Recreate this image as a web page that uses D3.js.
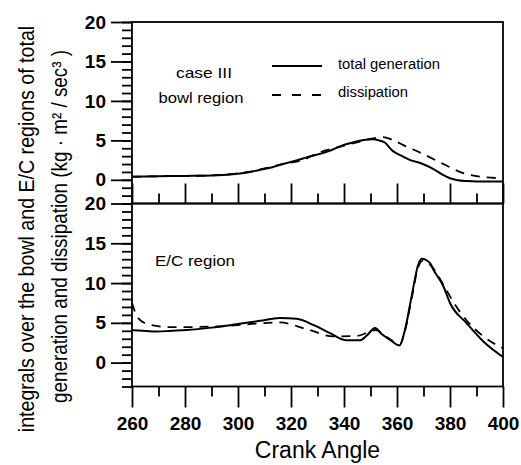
<!DOCTYPE html>
<html><head><meta charset="utf-8">
<script src="https://cdn.jsdelivr.net/npm/d3@7"></script>
<style>body{margin:0;background:#fff} svg{display:block}</style>
</head><body>
<svg id="c" width="521" height="465"></svg>
<script>
// ---- data ----
const bowlGenAngle = [260,270,280,290,298,304,308,313,317,322,327,330,334,339.7,343,346,349,351,353.6,355,358.6,362.3,365,369,373.6,377,380,383,386.3,390,400];
const bowlGen      = [0.4,0.45,0.5,0.55,0.7,0.95,1.25,1.6,2.0,2.45,2.95,3.2,3.6,4.4,4.7,4.95,5.1,5.15,4.95,4.8,3.6,2.95,2.5,2.1,1.4,0.7,0.2,-0.05,-0.15,-0.2,-0.2];
const bowlDisAngle = [260,270,280,290,298,304,310,318.5,323.4,331,338,346,351,354.8,358,362.4,370,377.5,385,392.6,400];
const bowlDis      = [0.4,0.45,0.5,0.55,0.75,1.0,1.45,2.1,2.4,3.5,4.15,4.85,5.25,5.4,5.1,4.4,3.25,2.0,0.85,0.35,0.2];
const ecGenAngle = [260,264,269.3,275,280.6,290,298,308.3,315.8,322.1,328.4,334.7,341,346,348.6,351.7,354.2,357.4,360.9,363,365.5,368,369.3,372.5,373.7,377.5,380,386.3,392.6,400];
const ecGen      = [4.1,4.0,3.9,4.0,4.1,4.4,4.75,5.25,5.6,5.5,4.75,3.7,2.8,2.8,3.4,4.35,3.6,2.85,2.15,4.1,8.3,12.3,13.05,12.5,11.7,9.6,7.5,4.95,2.65,0.7];
const ecDisAngle = [260,262.3,266.8,275.5,292,307,315.8,326,336,344.8,349.8,352,355,358,361,363,365.5,368,369.5,372.5,377.5,381.3,386.3,392.6,400];
const ecDis      = [7.5,5.6,4.75,4.45,4.55,4.9,5.05,4.2,3.3,3.35,3.9,4.1,3.5,2.8,2.2,4.0,8.0,12.0,12.8,12.3,9.8,7.6,5.3,3.3,1.8];
const xMajorTicks = [260,280,300,320,340,360,380,400];
const xMinorTicks = [270,290,310,330,350,370,390];
const yMajorTicks = [0,5,10,15,20];
const yDomain = [-3,20];

const FONT = "'Liberation Sans', Arial, Helvetica, sans-serif";
const svg = d3.select("#c");
const L = 132, R = 503;
const x = d3.scaleLinear().domain([260,400]).range([L,R]);
const yTop = d3.scaleLinear().domain(yDomain).range([203.5,22]);
const yBot = d3.scaleLinear().domain(yDomain).range([386.5,203.5]);

function styleAxis(g){
  g.select(".domain").remove();
  g.selectAll("line").attr("stroke","#000").attr("stroke-width",1.8);
  g.selectAll("text").attr("font-family",FONT).attr("font-weight","bold").attr("font-size",19).attr("fill","#000");
}

// left axes
[yTop,yBot].forEach(y=>{
  svg.append("g").attr("transform",`translate(${L},0)`)
    .call(d3.axisLeft(y).tickValues(d3.range(yDomain[0],yDomain[1]+1)).tickSize(10).tickFormat(""))
    .call(styleAxis);
  svg.append("g").attr("transform",`translate(${L},0)`)
    .call(d3.axisLeft(y).tickValues(yMajorTicks).tickSize(21).tickPadding(5).tickFormat(d3.format("d")))
    .call(styleAxis);
});

// shared middle x ticks (pointing up into top panel)
svg.append("g").attr("transform",`translate(0,${yTop.range()[0]})`)
  .call(d3.axisBottom(x).tickValues(xMajorTicks).tickSize(-20).tickFormat(""))
  .call(styleAxis);
svg.append("g").attr("transform",`translate(0,${yTop.range()[0]})`)
  .call(d3.axisBottom(x).tickValues(xMinorTicks).tickSize(-10).tickFormat(""))
  .call(styleAxis);

// bottom x axis
svg.append("g").attr("transform",`translate(0,${yBot.range()[0]})`)
  .call(d3.axisBottom(x).tickValues(xMinorTicks).tickSize(10).tickFormat(""))
  .call(styleAxis);
svg.append("g").attr("transform",`translate(0,${yBot.range()[0]})`)
  .call(d3.axisBottom(x).tickValues(xMajorTicks).tickSize(21).tickPadding(9).tickFormat(d3.format("d")))
  .call(styleAxis);

// frames
[yTop,yBot].forEach(y=>{
  svg.append("rect").attr("x",L).attr("y",y.range()[1]).attr("width",R-L).attr("height",y.range()[0]-y.range()[1])
    .attr("fill","none").attr("stroke","#000").attr("stroke-width",1.8);
});

// lines
function drawLine(xs, ys, y, dashed){
  const pts = xs.map((a,i)=>[a,ys[i]]);
  const line = d3.line().x(d=>x(d[0])).y(d=>y(d[1])).curve(d3.curveMonotoneX);
  svg.append("path").attr("d",line(pts)).attr("fill","none").attr("stroke","#000")
    .attr("stroke-width",dashed?1.8:2).attr("stroke-dasharray",dashed?"9,7":null);
}
drawLine(bowlGenAngle,bowlGen,yTop,false);
drawLine(bowlDisAngle,bowlDis,yTop,true);
drawLine(ecGenAngle,ecGen,yBot,false);
drawLine(ecDisAngle,ecDis,yBot,true);

// annotations
function txt(t,xx,yy,size,opts={}){
  const e = svg.append("text").attr("x",xx).attr("y",yy).attr("font-family",FONT)
    .attr("font-size",size).attr("fill","#000").text(t);
  if(opts.anchor) e.attr("text-anchor",opts.anchor);
  if(opts.len) e.attr("textLength",opts.len).attr("lengthAdjust","spacingAndGlyphs");
  if(opts.weight) e.attr("font-weight",opts.weight);
  return e;
}
txt("case III",204,78,15,{anchor:"middle",len:56});
txt("bowl region",201,103,15,{anchor:"middle",len:85});
svg.append("line").attr("x1",272).attr("x2",322).attr("y1",66).attr("y2",66).attr("stroke","#000").attr("stroke-width",2);
svg.append("line").attr("x1",272).attr("x2",322).attr("y1",95).attr("y2",95).attr("stroke","#000").attr("stroke-width",1.8).attr("stroke-dasharray","9,11");
txt("total generation",338,69,14,{len:102});
txt("dissipation",338,97,14,{len:70});
txt("E/C region",155,266,15,{len:80});

// axis titles
txt("Crank Angle",317.5,458,23,{anchor:"middle"});
const yt = svg.append("g");
yt.append("text").attr("transform","translate(34,229) rotate(-90) scale(1,1.17)").attr("text-anchor","middle")
  .attr("font-family",FONT).attr("font-size",19.6)
  .text("integrals over the bowl and E/C regions of total");
yt.append("text").attr("transform","translate(67,226.5) rotate(-90) scale(1,1.17)").attr("text-anchor","middle")
  .attr("font-family",FONT).attr("font-size",19.6).attr("textLength",353).attr("lengthAdjust","spacingAndGlyphs")
  .text("generation and dissipation (kg · m² / sec³ )");
</script>
</body></html>
